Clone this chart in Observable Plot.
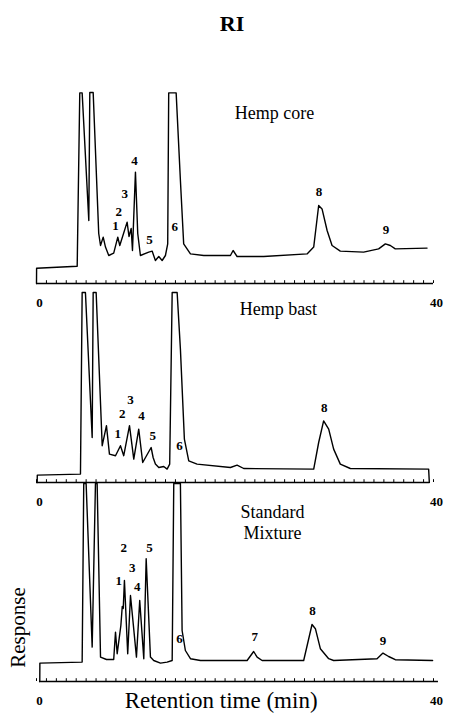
<!DOCTYPE html>
<html>
<head>
<meta charset="utf-8">
<script src="https://cdn.jsdelivr.net/npm/d3@7"></script>
<script src="https://cdn.jsdelivr.net/npm/@observablehq/plot@0.6"></script>
<style>
  html, body { margin: 0; padding: 0; background: #fff; }
  #wrap { width: 451px; }
  #title { width: 464px; height: 48px; padding-top: 12px; text-align: center;
           font: bold 22px "Liberation Serif", serif; line-height: 24px; color: #000; }
</style>
</head>
<body>
<div id="wrap">
  <div id="title">RI</div>
  <div id="chart"></div>
</div>
<script>
// Panels (samples), top to bottom
const panels = ["Hemp core", "Hemp bast", "Standard Mixture"];

// Hemp core trace: retention time (min) and response (arbitrary units)
const coreT = [0, 0.01, 4.1, 4.36, 4.6, 5.27, 5.37, 5.71, 6.27, 6.45, 6.72, 6.95, 7.28, 7.78, 8.19, 8.39, 9.13, 9.32, 9.54, 9.67, 9.97, 10.2, 10.47, 11.31, 11.65, 11.98, 12.32, 12.66, 12.99, 13.22, 13.32, 14.07, 14.5, 14.83, 15.51, 16.85, 19.54, 19.81, 20.21, 22.89, 27.26, 27.93, 28.43, 28.77, 29.28, 29.78, 30.61, 32.96, 34.47, 35.15, 35.65, 36.15, 39.35];
const coreR = [0, 7.6, 8.6, 95.3, 95.3, 31.5, 95.5, 95.5, 25, 19, 23.2, 18.2, 14, 15.2, 23.2, 19, 30.7, 23.5, 27.5, 16.5, 55.7, 25, 14, 15.7, 16.2, 11.5, 13.5, 11.5, 14, 19.8, 95.3, 95.3, 51.5, 19.8, 14.8, 14, 14, 16.5, 13.5, 13.5, 14.8, 18.2, 39, 37.3, 26.5, 19, 16.2, 15.7, 17.3, 19.8, 19, 17.3, 17.7];

// Hemp bast trace
const bastT = [0.07, 0.08, 4.43, 4.6, 4.93, 5.61, 5.71, 6.01, 6.62, 7.05, 7.35, 7.96, 8.46, 8.79, 9.37, 9.8, 10.3, 10.7, 11.55, 11.75, 11.98, 12.32, 12.82, 13.16, 13.42, 13.67, 14.17, 14.5, 14.9, 15.34, 16.18, 19.54, 20.21, 20.88, 27.93, 28.43, 28.93, 29.44, 29.94, 30.61, 31.62, 39.51, 39.58];
const bastR = [0, 3.7, 4.2, 95, 95, 22.5, 95, 95, 18.4, 28.4, 14.2, 13.4, 18.4, 13.4, 28.4, 11.7, 26.7, 10, 17.5, 12.5, 9.2, 7.5, 8, 6.7, 9.2, 95, 95, 66.7, 21.7, 10.8, 9.2, 7.5, 8.7, 7, 6.7, 20, 30.8, 26.7, 16.7, 9.2, 7, 6.7, 0];

// Standard mixture trace
const mixT = [0.33, 0.34, 4.6, 4.76, 5.0, 5.61, 5.94, 6.11, 6.45, 7.05, 7.78, 7.96, 8.13, 8.5, 8.64, 8.74, 8.86, 9.19, 9.47, 10.07, 10.4, 10.81, 11.05, 11.48, 11.81, 12.49, 13.16, 13.67, 13.83, 14.5, 14.67, 15.0, 15.51, 16.52, 21.22, 21.88, 22.23, 22.73, 26.92, 27.76, 28.1, 28.6, 29.44, 29.94, 34.31, 34.91, 35.48, 36.15, 39.91];
const mixR = [0, 9.2, 9.7, 99, 99, 17.2, 99, 99, 12.2, 11, 11, 24.7, 13.9, 28, 37.5, 36.5, 50.5, 13.9, 43, 12.2, 40.5, 11.4, 61.4, 12.2, 10.5, 9.2, 9.7, 10.5, 99, 99, 25.5, 15.5, 11.4, 10.5, 10.5, 15, 12.2, 10.5, 10.5, 28.5, 26.4, 16.4, 11.4, 10.5, 11.4, 14.2, 12.5, 10.9, 10.5];

// Peak numbers (label, time, response) per panel
const coreLabels = ["1", "2", "3", "4", "5", "6", "8", "9"];
const coreLabelT = [7.96, 8.29, 8.89, 9.87, 11.38, 13.93, 28.47, 35.22];
const coreLabelR = [29, 35.7, 44.9, 61.5, 21.9, 28.2, 46, 26.9];
const bastLabels = ["1", "2", "3", "4", "5", "6", "8"];
const bastLabelT = [8.19, 8.63, 9.47, 10.57, 11.71, 14.4, 29.0];
const bastLabelR = [24.2, 34.2, 41.4, 33.4, 23.4, 18.4, 37.5];
const mixLabels = ["1", "2", "3", "4", "5", "6", "7", "8", "9"];
const mixLabelT = [8.29, 8.79, 9.64, 10.14, 11.38, 14.4, 21.98, 27.82, 34.91];
const mixLabelR = [50.5, 66.9, 56.7, 47.2, 66.9, 21.4, 22.2, 35.2, 20.5];

// Sample names (lines), with position in data units
const sampleLines = ["Hemp core", "Hemp bast", "Standard", "Mixture"];
const sampleLinePanel = ["Hemp core", "Hemp bast", "Standard Mixture", "Standard Mixture"];
const sampleLineT = [23.97, 24.37, 23.77, 23.77];
const sampleLineR = [85, 86.5, 84.5, 74];

// Time axis: recorder ruler extent per panel and minute ticks
const rulerStart = [0, 0, 0.3];
const rulerEnd = [40, 39.6, 40.5];
const minuteTicks = d3.range(0, 41);
const tickLabels = [0, 40];

const xLabel = "Retention time (min)";
const yLabel = "Response";

// ---- build tables ----
const zip = (panel, T, R) => T.map((t, i) => ({panel, t, r: R[i]}));
const traces = [
  ...zip(panels[0], coreT, coreR),
  ...zip(panels[1], bastT, bastR),
  ...zip(panels[2], mixT, mixR)
];
const zipL = (panel, L, T, R) => L.map((label, i) => ({panel, label, t: T[i], r: R[i]}));
const peakLabels = [
  ...zipL(panels[0], coreLabels, coreLabelT, coreLabelR),
  ...zipL(panels[1], bastLabels, bastLabelT, bastLabelR),
  ...zipL(panels[2], mixLabels, mixLabelT, mixLabelR)
];
const names = sampleLines.map((text, i) => ({text, panel: sampleLinePanel[i], t: sampleLineT[i], r: sampleLineR[i]}));
const rulers = panels.map((panel, i) => ({panel, x1: rulerStart[i], x2: rulerEnd[i]}));
const ticks = panels.flatMap(panel => minuteTicks.map(m => ({panel, m})));
const tLabels = panels.flatMap(panel => tickLabels.map(v => ({panel, v})));

const chart = Plot.plot({
  width: 451,
  height: 655,
  marginTop: 24,
  marginBottom: 34,
  marginLeft: 36,
  marginRight: 18,
  x: {domain: [0, 40], axis: null},
  y: {domain: [0, 99.5], axis: null},
  fy: {domain: panels, axis: null, padding: 0},
  style: {background: "white", fontFamily: "'Liberation Serif', serif", color: "black"},
  marks: [
    Plot.ruleY(rulers, {fy: "panel", y: () => 0, x1: "x1", x2: "x2", stroke: "black", strokeWidth: 1.3}),
    Plot.ruleX(ticks, {fy: "panel", x: "m", y1: () => 0, y2: () => 1.4, stroke: "black", strokeWidth: 1}),
    Plot.line(traces, {fy: "panel", x: "t", y: "r", stroke: "black", strokeWidth: 1.4, strokeLinejoin: "round"}),
    Plot.text(peakLabels, {fy: "panel", x: "t", y: "r", text: "label", fontSize: 13, fontWeight: "bold"}),
    Plot.text(names, {fy: "panel", x: "t", y: "r", text: "text", fontSize: 18}),
    Plot.text(tLabels, {fy: "panel", x: "v", y: () => 0, text: d => String(d.v), dy: 19, dx: 3, fontSize: 13, fontWeight: "bold"}),
    Plot.text([xLabel], {fy: () => panels[2], x: () => 18.6, y: () => 0, dy: 19, text: d => d, fontSize: 23}),
    Plot.text([yLabel], {fy: () => panels[2], x: () => 0, y: () => 27, dx: -18, rotate: -90, text: d => d, fontSize: 21})
  ]
});
document.getElementById("chart").appendChild(chart);
</script>
</body>
</html>
